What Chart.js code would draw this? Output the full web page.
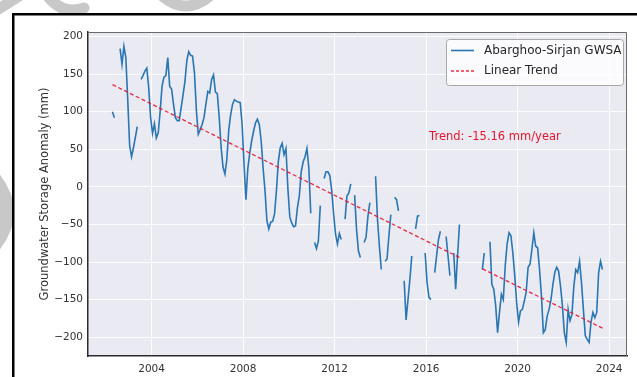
<!DOCTYPE html>
<html>
<head>
<meta charset="utf-8">
<script src="https://cdn.jsdelivr.net/npm/chart.js@4.4.0/dist/chart.umd.min.js"></script>
<style>
    html, body { margin: 0; padding: 0; background: #fff; }
    #wrap { width: 637px; height: 377px; position: relative; }
</style>
</head>
<body>
<div id="wrap"><canvas id="gwsaChart"></canvas></div>
<script>
// ===============================================
// Data - monthly GWSA (mm), first value = April 2002, null = missing month
// ===============================================
const firstMonth = 2002.29;
const gwsa = [
    100, 92, null, null, 184, 163, 187, 172, 116, 55, 40, 52,
    66, 80, null, 143, 148, 154, 158, 132, 92, 71, 84, 65,
    72, 100, 134, 146, 148, 172, 134, 130, 110, 92, 88, 88,
    105, 122, 140, 168, 180, 175, 174, 152, 102, 70, 76, 83,
    92, 110, 127, 125, 143, 149, 126, 124, 92, 52, 26, 17,
    37, 76, 96, 110, 116, 114, 113, 112, 83, 30, -17, 25,
    45, 61, 74, 85, 90, 83, 61, 25, -5, -45, -56, -47,
    -46, -36, -5, 34, 52, 58, 43, 51, -2, -40, -48, -53,
    -52, -28, -12, 20, 33, 40, 51, 25, -35, null, -74, -82,
    -72, -25, null, 11, 20, 20, 15, -5, -36, -63, -76, -62,
    -70, null, -43, -12, -8, 4, null, -11, -56, -85, -94, null,
    -74, -67, -39, -21, null, null, 14, -43, -79, -110, null, -99,
    -96, -65, -37, null, -14, -17, -32, null, null, -125, -177, -150,
    -123, -92, null, -56, -39, -38, null, null, -88, -127, -147, -150,
    null, -114, -92, -70, -59, null, null, -66, -92, -118, null, -88,
    -136, -92, -50, null, null, null, null, null, null, null, null, null,
    null, null, -110, -88, null, null, -73, -130, -136, -158, -194, -167,
    -143, -150, -105, -76, -61, -65, -88, -118, -154, -180, -165, -163,
    -152, -140, -107, -103, -83, -61, -79, -81, -110, -145, -194, -190,
    -172, -163, -150, -130, -114, -107, -112, -132, -158, -194, -207, -163,
    -178, -170, -132, -110, -114, -99, -127, -163, -198, -203, -207, -180,
    -167, -174, -167, -114, -99, -110
];

// trend line (broken over the 2017-2018 gap)
const trendDates = [2002.29, 2017.46, 2017.96, 2018.46, 2023.71];
const trendValues = [136, -94, null, -109, -188];

const xTicks = [2004, 2008, 2012, 2016, 2020, 2024];
const yTicks = [-200, -150, -100, -50, 0, 50, 100, 150, 200];

const seriesLabel = 'Abarghoo-Sirjan GWSA';
const trendLabel = 'Linear Trend';
const trendText = 'Trend: -15.16 mm/year';

const BLUE = '#2a76b2';
const RED = 'rgba(228, 22, 48, 0.9)';
const FONT = '"DejaVu Sans", sans-serif';

// ===============================================
// Frame, background, legend and annotation
// ===============================================
const decor = {
    id: 'decor',
    beforeDraw(chart) {
        const { ctx, chartArea: a, width, height } = chart;
        ctx.save();
        ctx.fillStyle = '#fff';
        ctx.fillRect(0, 0, width, height);

        // light grey swooshes outside the black frame
        ctx.save();
        ctx.beginPath();
        ctx.rect(0, 0, width, 13);
        ctx.rect(0, 0, 12, height);
        ctx.clip();
        ctx.strokeStyle = '#c8c8c8';
        ctx.lineCap = 'round';
        ctx.lineWidth = 11;
        ctx.beginPath();
        ctx.moveTo(-3, 10); ctx.quadraticCurveTo(10, 2, 22, -6);
        ctx.moveTo(46, -6); ctx.quadraticCurveTo(62, 16, 84, 8);
        ctx.moveTo(160, -6); ctx.quadraticCurveTo(186, 18, 212, -6);
        ctx.stroke();
        ctx.lineWidth = 16;
        ctx.beginPath();
        ctx.moveTo(-6, 180); ctx.quadraticCurveTo(18, 212, -6, 244);
        ctx.stroke();
        ctx.restore();

        // outer black frame
        ctx.fillStyle = '#000';
        ctx.fillRect(12, 13, width - 12, 2.5);
        ctx.fillRect(12, 13, 2.5, height - 13);

        // plot background
        ctx.fillStyle = '#eaeaf2';
        ctx.fillRect(a.left, a.top, a.right - a.left, a.bottom - a.top);
        ctx.restore();
    },
    afterDraw(chart) {
        const { ctx, chartArea: a } = chart;
        ctx.save();

        // top / right spines
        ctx.strokeStyle = '#6a6a6a';
        ctx.lineWidth = 1;
        ctx.beginPath();
        ctx.moveTo(a.left, a.top + 0.5);
        ctx.lineTo(a.right - 0.5, a.top + 0.5);
        ctx.lineTo(a.right - 0.5, a.bottom);
        ctx.stroke();

        // legend box
        const lx = a.right - 181, ly = a.top + 7, lw = 177, lh = 46;
        ctx.beginPath();
        ctx.roundRect(lx + 0.5, ly + 0.5, lw, lh, 3);
        ctx.fillStyle = 'rgba(255,255,255,0.8)';
        ctx.fill();
        ctx.strokeStyle = '#a8a8a8';
        ctx.stroke();

        ctx.lineWidth = 1.6;
        ctx.strokeStyle = BLUE;
        ctx.beginPath();
        ctx.moveTo(lx + 5, ly + 11.5);
        ctx.lineTo(lx + 28, ly + 11.5);
        ctx.stroke();

        ctx.strokeStyle = RED;
        ctx.lineWidth = 1.3;
        ctx.setLineDash([3, 2]);
        ctx.beginPath();
        ctx.moveTo(lx + 5, ly + 32);
        ctx.lineTo(lx + 28, ly + 32);
        ctx.stroke();
        ctx.setLineDash([]);

        ctx.font = '12px ' + FONT;
        ctx.fillStyle = '#262626';
        ctx.textBaseline = 'middle';
        ctx.textAlign = 'left';
        ctx.fillText(seriesLabel, lx + 38, ly + 11.5);
        ctx.fillText(trendLabel, lx + 38, ly + 32);

        // trend annotation
        ctx.font = '11.5px ' + FONT;
        ctx.fillStyle = '#e3172c';
        ctx.textAlign = 'center';
        ctx.fillText(trendText, a.left + 0.755 * (a.right - a.left), a.top + 0.324 * (a.bottom - a.top));
        ctx.restore();
    }
};

// ===============================================
// Chart
// ===============================================
const seriesPoints = gwsa.map((v, i) => ({ x: firstMonth + i / 12, y: v }));
const trendPoints = trendDates.map((d, i) => ({ x: d, y: trendValues[i] }));

const tickFont = { family: FONT, size: 10.5 };
const gridStyle = { color: 'rgba(255,255,255,0.9)', lineWidth: 1, drawTicks: false };

new Chart(document.getElementById('gwsaChart'), {
    type: 'line',
    data: {
        datasets: [{
            label: seriesLabel,
            data: seriesPoints,
            borderColor: BLUE,
            borderWidth: 1.6,
            pointRadius: 0,
            spanGaps: false,
            tension: 0,
            order: 1
        }, {
            label: trendLabel,
            data: trendPoints,
            borderColor: RED,
            borderWidth: 1.3,
            borderDash: [4, 2.5],
            pointRadius: 0,
            spanGaps: false,
            order: 0
        }]
    },
    options: {
        responsive: true,
        maintainAspectRatio: false,
        animation: false,
        layout: { padding: { left: 30, right: 10, top: 32, bottom: 0 } },
        plugins: { legend: { display: false }, tooltip: { enabled: false } },
        scales: {
            x: {
                type: 'linear',
                min: 2001.22,
                max: 2024.78,
                afterBuildTicks: s => { s.ticks = xTicks.map(v => ({ value: v })); },
                afterFit: s => { s.height = 21; },
                grid: gridStyle,
                border: { display: true, color: '#2b2b2b', width: 1.5 },
                ticks: { padding: 7, color: '#333', font: tickFont, maxRotation: 0, autoSkip: false, callback: v => String(v) }
            },
            y: {
                type: 'linear',
                min: -225,
                max: 206,
                afterBuildTicks: s => { s.ticks = yTicks.map(v => ({ value: v })); },
                afterFit: s => { s.width = 58; },
                grid: gridStyle,
                border: { display: true, color: '#2b2b2b', width: 1.5 },
                ticks: { padding: 5, color: '#333', font: tickFont, callback: v => (v < 0 ? '\u2212' + Math.abs(v) : String(v)) },
                title: {
                    display: true,
                    text: 'Groundwater Storage Anomaly (mm)',
                    color: '#333',
                    font: { family: FONT, size: 11.5 },
                    padding: { top: 8, bottom: 0 }
                }
            }
        }
    },
    plugins: [decor]
});
</script>
</body>
</html>
